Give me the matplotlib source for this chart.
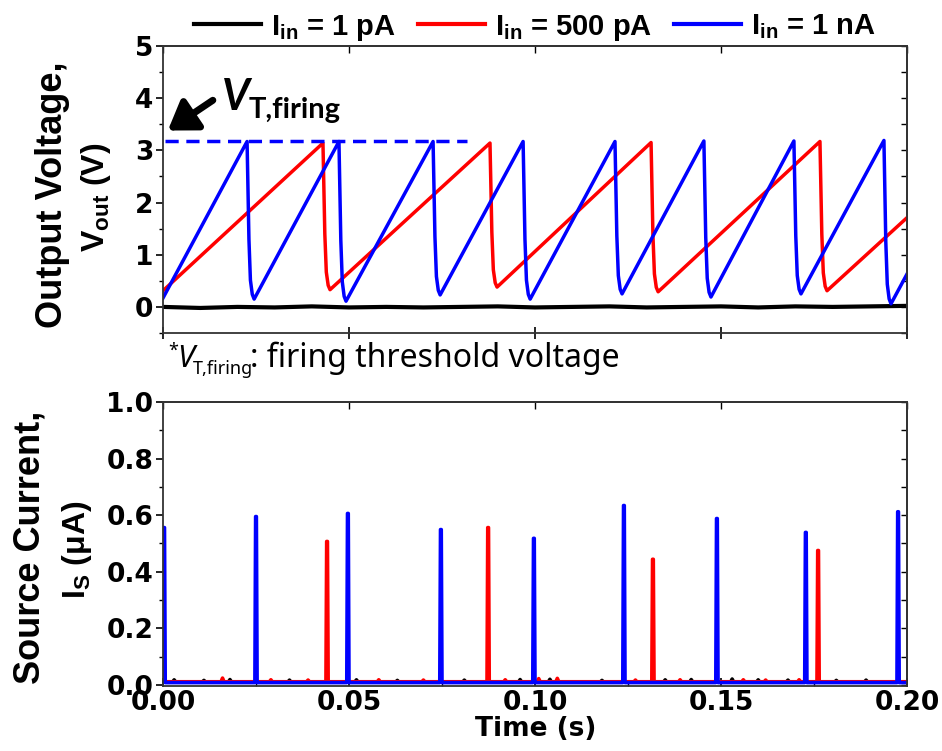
import numpy as np
import matplotlib
matplotlib.use('Agg')
import matplotlib.pyplot as plt
from matplotlib.ticker import MultipleLocator, FormatStrFormatter

# ---------------- data ----------------
# Top panel: output voltage (V) vs time (s)
blue_start_v = 0.17
blue_peak_t = [0.0226, 0.0473, 0.0726, 0.0968, 0.1215, 0.1454, 0.1696, 0.1938]
blue_peak_v = [3.17, 3.17, 3.17, 3.17, 3.17, 3.18, 3.18, 3.19]
blue_min_v = [0.15, 0.11, 0.23, 0.15, 0.25, 0.19, 0.25, 0.06]
blue_end_v = 0.63

red_start_v = 0.31
red_peak_t = [0.0430, 0.0879, 0.1312, 0.1766]
red_peak_v = [3.14, 3.14, 3.15, 3.17]
red_min_v = [0.33, 0.38, 0.29, 0.31]
red_end_v = 1.71

black_t = [0.0, 0.01, 0.02, 0.03, 0.04, 0.05, 0.06, 0.07, 0.08, 0.09, 0.10,
           0.11, 0.12, 0.13, 0.14, 0.15, 0.16, 0.17, 0.18, 0.19, 0.20]
black_v = [0.00, -0.02, 0.00, -0.01, 0.01, -0.01, 0.00, -0.01, 0.00, 0.01, -0.01,
           0.00, 0.01, -0.01, 0.00, 0.01, -0.01, 0.01, 0.00, 0.01, 0.02]

vt_firing = 3.17
vt_line_end = 0.0817

# Bottom panel: source current (uA) spikes
blue_spike_t = [0.0003, 0.0250, 0.0497, 0.0747, 0.0997, 0.1239, 0.1489, 0.1728, 0.1976]
blue_spike_h = [0.556, 0.595, 0.606, 0.549, 0.518, 0.634, 0.588, 0.539, 0.612]
red_spike_t = [0.0441, 0.0874, 0.1317, 0.1761]
red_spike_h = [0.507, 0.556, 0.444, 0.475]
base_blue = 0.008
base_red = 0.011
base_black = 0.011
black_bump_t = [0.003, 0.011, 0.018, 0.034, 0.052, 0.063, 0.081, 0.096, 0.104, 0.118,
                0.135, 0.142, 0.153, 0.160, 0.168, 0.181, 0.189]
black_bump_h = [0.018, 0.016, 0.019, 0.017, 0.018, 0.016, 0.017, 0.019, 0.020, 0.016,
                0.018, 0.019, 0.021, 0.018, 0.017, 0.016, 0.017]
red_bump_t = [0.016, 0.029, 0.039, 0.058, 0.070, 0.092, 0.101, 0.106, 0.127, 0.139,
              0.156, 0.162, 0.171]
red_bump_h = [0.024, 0.018, 0.017, 0.018, 0.017, 0.018, 0.022, 0.023, 0.017, 0.018,
              0.018, 0.017, 0.018]

legend_labels = [r'I$\mathregular{_{in}}$ = 1 pA', r'I$\mathregular{_{in}}$ = 500 pA',
                 r'I$\mathregular{_{in}}$ = 1 nA']

BLUE = '#0000FF'
RED = '#FF0000'
BLACK = '#000000'


def sawtooth(start_v, peak_t, peak_v, min_v, end_v):
    """Polyline through the read key points: linear ramps, fast fall after each peak."""
    t = [0.0]
    v = [start_v]
    fall_dt = [0.0, 0.0005, 0.0009, 0.0014, 0.0019]
    fr = [1.0, 0.38, 0.12, 0.03, 0.0]
    for tp, vp, vm in zip(peak_t, peak_v, min_v):
        span = vp - vm
        for d, f in zip(fall_dt, fr):
            t.append(tp + d)
            v.append(vm + f * span)
    t.append(0.2)
    v.append(end_v)
    return np.array(t), np.array(v)


def spikes(spike_t, spike_h, base, bump_t=(), bump_h=()):
    pts = [(0.0, base), (0.2, base)]
    for ts, h in zip(spike_t, spike_h):
        pts += [(ts - 0.0003, base), (ts - 0.0001, h), (ts + 0.0001, h), (ts + 0.0003, base)]
    for tb, hb in zip(bump_t, bump_h):
        pts += [(tb - 0.0004, base), (tb, hb), (tb + 0.0004, base)]
    pts.sort()
    arr = np.array(pts)
    return arr[:, 0], arr[:, 1]


fig = plt.figure(figsize=(9.42, 7.51), dpi=100)
W, H = 942.0, 751.0


def px(x, y):
    return x / W, 1 - y / H


ax1 = fig.add_axes([163 / W, 1 - 333 / H, 744 / W, 287 / H])
ax2 = fig.add_axes([163 / W, 1 - 686 / H, 744 / W, 284 / H])

# ---------------- top panel ----------------
bt, bv = sawtooth(blue_start_v, blue_peak_t, blue_peak_v, blue_min_v, blue_end_v)
rt, rv = sawtooth(red_start_v, red_peak_t, red_peak_v, red_min_v, red_end_v)
l0, = ax1.plot(black_t, black_v, color=BLACK, lw=3.0, label=legend_labels[0])
l1, = ax1.plot(rt, rv, color=RED, lw=2.5, label=legend_labels[1], solid_joinstyle='round')
l2, = ax1.plot(bt, bv, color=BLUE, lw=2.5, label=legend_labels[2], solid_joinstyle='round')
ax1.plot([0.0005, vt_line_end], [vt_firing, vt_firing], color=BLUE, lw=2.5,
         dashes=(3.8, 2.2))

ax1.annotate('', xy=(0.0013, 3.38), xytext=(0.0134, 3.96),
             arrowprops=dict(arrowstyle='-|>,head_length=0.75,head_width=0.5', lw=5,
                             color='black', shrinkA=0, shrinkB=0, mutation_scale=22))

ax1.set_xlim(0, 0.2)
ax1.set_ylim(-0.5, 5)
ax1.xaxis.set_major_locator(MultipleLocator(0.05))
ax1.yaxis.set_major_locator(MultipleLocator(1))
ax1.yaxis.set_minor_locator(MultipleLocator(0.5))
ax1.tick_params(axis='x', which='major', direction='inout', length=8, width=1.2,
                labelbottom=False)
ax1.tick_params(axis='y', which='major', direction='out', length=5, width=1.2, pad=2)
ax1.tick_params(axis='y', which='minor', direction='out', length=3, width=1.0)

# ---------------- bottom panel ----------------
kt, kv = spikes([], [], base_black, black_bump_t, black_bump_h)
rt2, rv2 = spikes(red_spike_t, red_spike_h, base_red, red_bump_t, red_bump_h)
bt2, bv2 = spikes(blue_spike_t, blue_spike_h, base_blue)
ax2.plot(kt, kv, color=BLACK, lw=2.5)
ax2.plot(rt2, rv2, color=RED, lw=2.6, solid_joinstyle='round', solid_capstyle='round')
ax2.plot(bt2, bv2, color=BLUE, lw=2.6, solid_joinstyle='round', solid_capstyle='round')

ax2.set_xlim(0, 0.2)
ax2.set_ylim(-0.004, 1.0)
ax2.xaxis.set_major_locator(MultipleLocator(0.05))
ax2.xaxis.set_minor_locator(MultipleLocator(0.025))
ax2.yaxis.set_major_locator(MultipleLocator(0.2))
ax2.yaxis.set_minor_locator(MultipleLocator(0.1))
ax2.xaxis.set_major_formatter(FormatStrFormatter('%.2f'))
ax2.yaxis.set_major_formatter(FormatStrFormatter('%.1f'))
ax2.tick_params(axis='x', which='major', direction='in', length=6, width=1.2, pad=3)
ax2.tick_params(axis='x', which='minor', direction='in', length=4, width=1.0)
ax2.tick_params(axis='y', which='major', direction='out', length=5, width=1.2, pad=2)
ax2.tick_params(axis='y', which='minor', direction='out', length=3, width=1.0)

for ax in (ax1, ax2):
    for lab in ax.get_xticklabels() + ax.get_yticklabels():
        lab.set_fontfamily('DejaVu Sans')
        lab.set_fontweight('bold')
        lab.set_fontsize(19)
    for sp in ax.spines.values():
        sp.set_color('#333333')
        sp.set_linewidth(1.3)
    # inward ticks on the top and right sides
    sx = ax.secondary_xaxis('top')
    sx.xaxis.set_major_locator(MultipleLocator(0.05))
    sx.tick_params(direction='in', length=5, width=1.0, labeltop=False)
    sy = ax.secondary_yaxis('right')
    sy.yaxis.set_major_locator(ax.yaxis.get_major_locator())
    sy.yaxis.set_minor_locator(ax.yaxis.get_minor_locator())
    sy.tick_params(which='both', direction='in', length=4, width=1.0, labelright=False)
    for s in (sx, sy):
        for sp in s.spines.values():
            sp.set_color('#333333')
            sp.set_linewidth(1.3)

# ---------------- legend ----------------
sans = ['Liberation Sans', 'DejaVu Sans']
leg = ax1.legend(handles=[l0, l1, l2], labels=legend_labels, ncol=3, loc='lower center',
                 bbox_to_anchor=(0.5, 1.012), frameon=False, handlelength=2.3,
                 handletextpad=0.35, columnspacing=0.75, borderpad=0.0, borderaxespad=0.0,
                 prop=dict(family=sans, weight='bold', size=21))
for h in leg.get_lines():
    h.set_linewidth(3.0)

# ---------------- axis labels ----------------
fig.text(*px(53, 195), 'Output Voltage,', rotation=90, ha='center', va='center',
         family=sans, weight='bold', size=26)
fig.text(*px(96, 197), r'V$\mathregular{_{out}}$ (V)', rotation=90, ha='center', va='center',
         family=sans, weight='bold', size=23)
fig.text(*px(30, 547), 'Source Current,', rotation=90, ha='center', va='center',
         family=sans, weight='bold', size=26)
fig.text(*px(77, 550), r'I$\mathregular{_{S}}$ (μA)', rotation=90, ha='center', va='center',
         family=sans, weight='bold', size=23)
fig.text(*px(536, 729), 'Time (s)', ha='center', va='center',
         family='DejaVu Sans', weight='bold', size=19)

# ---------------- V_T,firing annotation ----------------
fig.text(*px(222, 110), 'V', ha='left', va='baseline', family=['Lato', 'DejaVu Sans'],
         weight='bold', style='italic', size=31)
fig.text(*px(249, 118), 'T,firing', ha='left', va='baseline', family=['Lato', 'DejaVu Sans'],
         weight='bold', size=21)

# ---------------- footnote ----------------
fig.text(*px(168, 356), '*', ha='left', va='baseline', family='Noto Sans', size=13)
fig.text(*px(177, 367), 'V', ha='left', va='baseline', family='Noto Sans',
         style='italic', size=22)
fig.text(*px(193, 374), 'T,firing', ha='left', va='baseline', family='Noto Sans', size=13)
fig.text(*px(250, 367), ': firing threshold voltage', ha='left', va='baseline',
         family='Noto Sans', size=23)

fig.savefig('out.png', dpi=100)
